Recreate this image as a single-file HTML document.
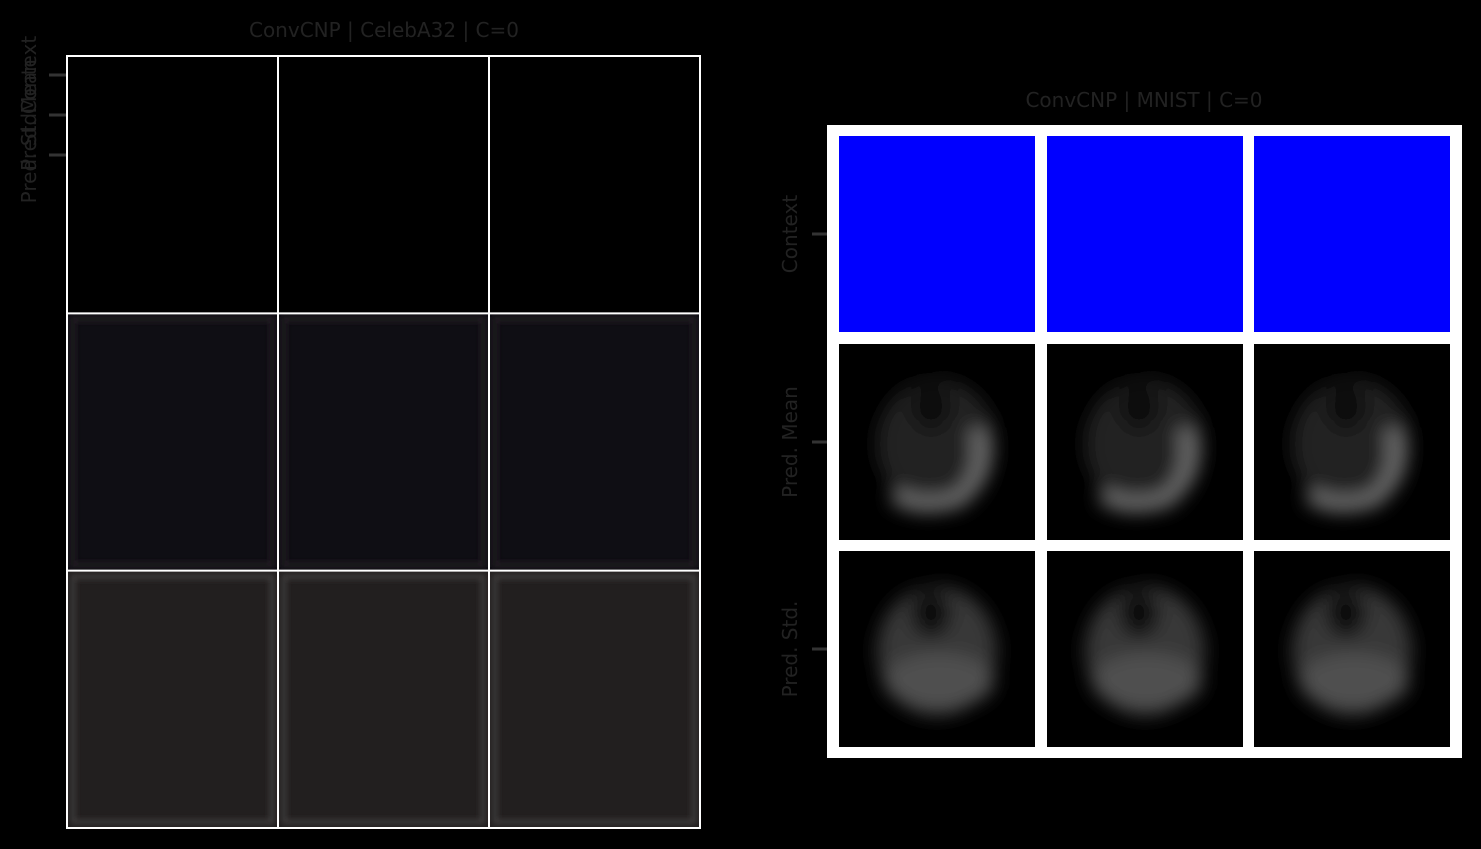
<!DOCTYPE html>
<html><head><meta charset="utf-8"><style>
body{margin:0;background:#000;width:1481px;height:849px;overflow:hidden;font-family:"DejaVu Sans","Liberation Sans",sans-serif}
</style></head><body>
<svg width="1481" height="849" xmlns="http://www.w3.org/2000/svg" style="display:block">
<defs>
<filter id="bl" x="-20%" y="-20%" width="140%" height="140%"><feGaussianBlur stdDeviation="9"/></filter>
<filter id="bl2"><feGaussianBlur stdDeviation="3"/></filter>
</defs>
<rect width="1481" height="849" fill="#000"/>
<g id="left"></g>
<g id="right"></g>
</svg>
<script>
const rowLabels=["Context","Pred. Mean","Pred. Std."];
const nCols=3;
const celebFill=["#000000","#0f0e14","#221f1f"];
const NS="http://www.w3.org/2000/svg";
const FF='"DejaVu Sans","Liberation Sans",sans-serif';
function el(t,a,p){const e=document.createElementNS(NS,t);for(const k in a)e.setAttribute(k,a[k]);p.appendChild(e);return e;}
const L=document.getElementById('left'),R=document.getElementById('right');
let t=el('text',{x:384,y:37,'text-anchor':'middle','font-size':20,fill:'#222','font-family':FF},L);t.textContent="ConvCNP | CelebA32 | C=0";


const lx=67,lw=633,ly=56,lh=772;
for(let r=0;r<3;r++)for(let c=0;c<nCols;c++){
 const x=lx+c*lw/3,y=ly+r*lh/3,w=lw/3,h=lh/3;
 const g=el('g',{},L);
 
 
 el('rect',{x,y,width:w,height:h,fill:celebFill[r]},g);
 if(r>0){el('rect',{x:x+6,y:y+6,width:w-12,height:h-12,fill:'none',stroke:r==1?'#221e20':'#3e3a3a','stroke-width':5,filter:'url(#bl2)'},g);}
}
for(let i=1;i<3;i++){el('line',{x1:lx+i*lw/3,x2:lx+i*lw/3,y1:ly,y2:ly+lh,stroke:'#fff','stroke-width':2},L);el('line',{x1:lx,x2:lx+lw,y1:ly+i*lh/3,y2:ly+i*lh/3,stroke:'#fff','stroke-width':2},L);}
el('rect',{x:lx,y:ly,width:lw,height:lh,fill:'none',stroke:'#fff','stroke-width':2},L);
rowLabels.forEach((s,i)=>{const y=75+i*40;el('line',{x1:49,x2:66,y1:y,y2:y,stroke:'#333','stroke-width':3},L);
 const tx=el('text',{x:36,y:y,'text-anchor':'middle','font-size':20,fill:'#222','font-family':FF,transform:`rotate(-90 36 ${y})`},L);tx.textContent=s;
 
 });
t=el('text',{x:1144,y:107,'text-anchor':'middle','font-size':20,fill:'#222','font-family':FF},R);t.textContent="ConvCNP | MNIST | C=0";


el('rect',{x:827,y:125,width:635,height:633,fill:'#fff'},R);
const cx0=[839,1047,1254],cy0=[136,344,551],cs=196;
for(let r=0;r<3;r++){
 const ty=cy0[r]+cs/2;
 el('line',{x1:812,x2:827,y1:ty,y2:ty,stroke:'#333','stroke-width':3},R);
 const tx=el('text',{x:797,y:ty,'text-anchor':'middle','font-size':20,fill:'#222','font-family':FF,transform:`rotate(-90 797 ${ty})`},R);tx.textContent=rowLabels[r];
 
 
 for(let c=0;c<3;c++){
  const x=cx0[c],y=cy0[r];
  const g=el('g',{},R);
  
  
  el('rect',{x,y,width:cs,height:cs,fill:r==0?'#0000ff':'#000'},g);
  if(r>0){
   const cl=el('g',{filter:'url(#bl)'},g);
   el('rect',{x:x+8,y:y+8,width:cs-16,height:cs-16,fill:'none'},cl);
   el('ellipse',{cx:x+98,cy:y+100,rx:60,ry:65,fill:r==1?'#202020':'#383838'},cl);
   el('ellipse',{cx:x+92,cy:y+62,rx:20,ry:24,fill:'#0a0a0a'},cl);
   if(r==1){el('path',{d:`M${x+55} ${y+150} Q${x+80} ${y+168} ${x+120} ${y+155} Q${x+150} ${y+130} ${x+138} ${y+85}`,stroke:'#6a6a6a','stroke-width':16,fill:'none'},cl);}
   else{el('ellipse',{cx:x+100,cy:y+130,rx:55,ry:28,fill:'#505050'},cl);}
  }
 }
}
</script>
</body></html>
